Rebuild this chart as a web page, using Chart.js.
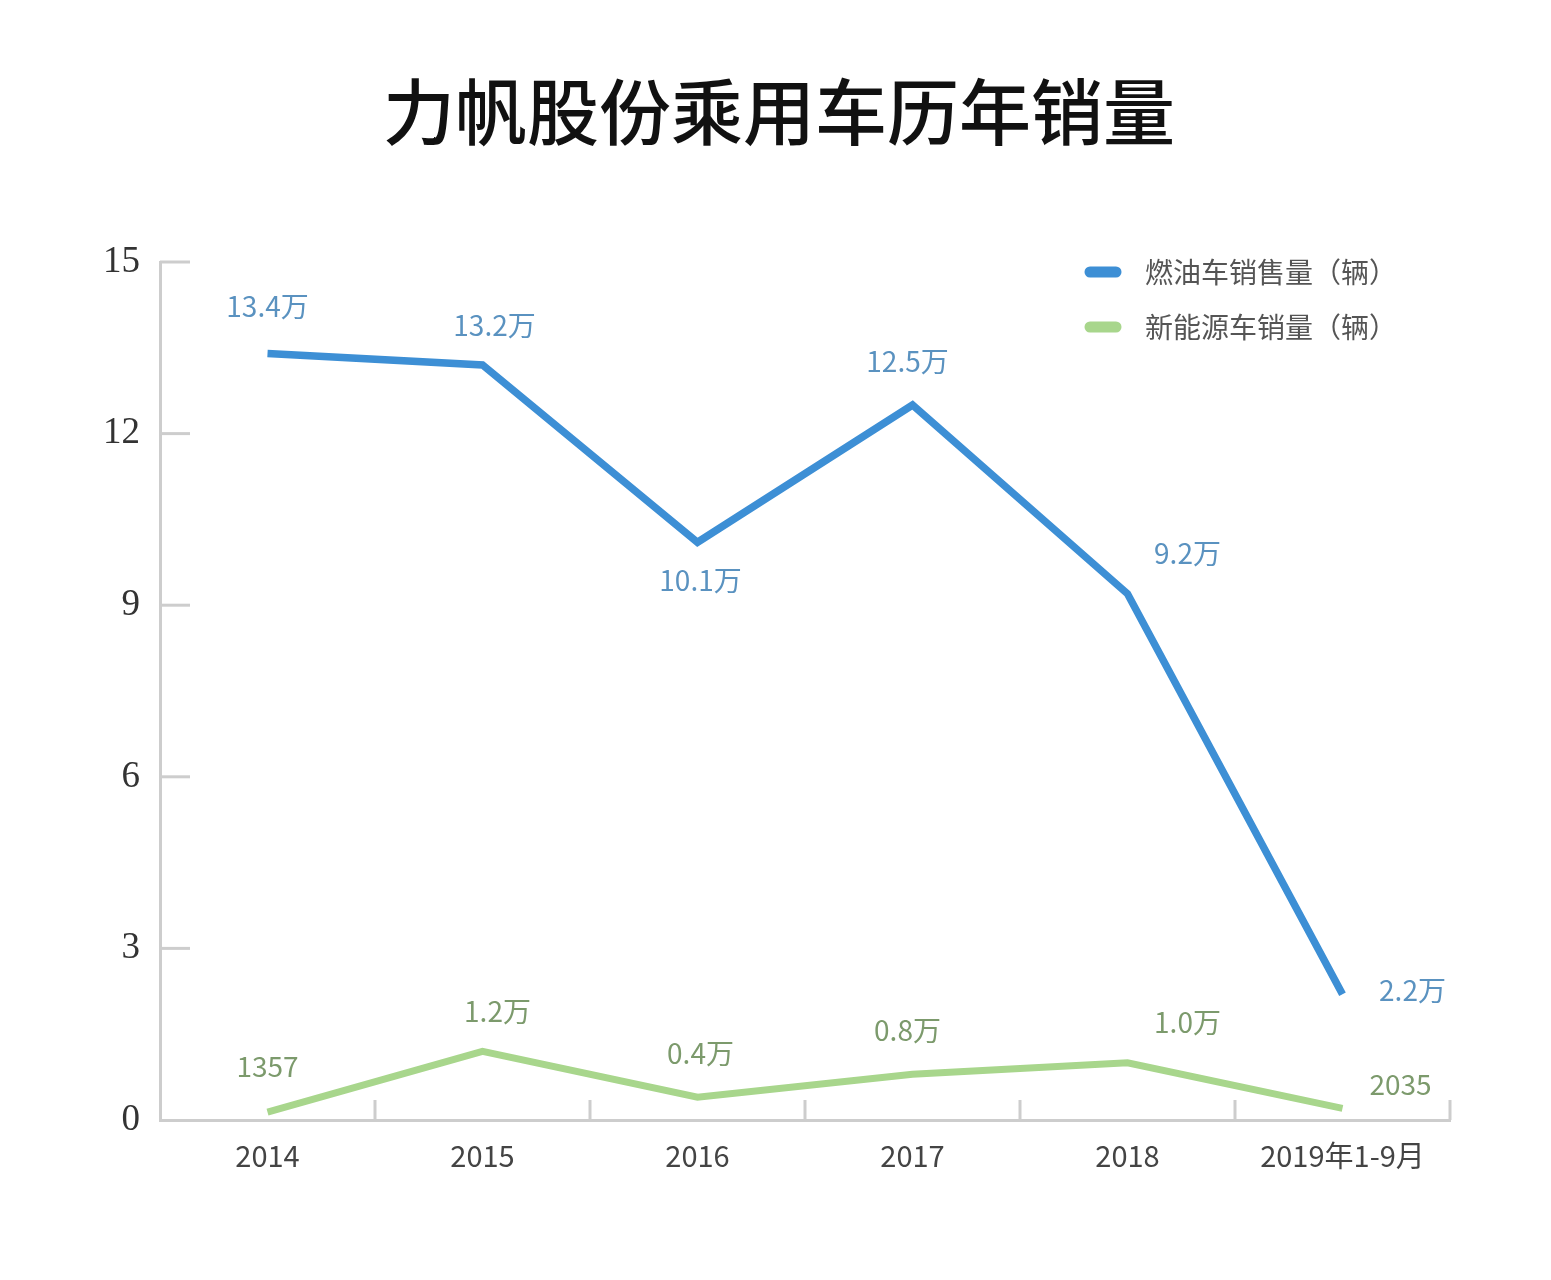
<!DOCTYPE html>
<html>
<head>
<meta charset="utf-8">
<script src="https://cdn.jsdelivr.net/npm/chart.js@4/dist/chart.umd.min.js"></script>
<style>
    html, body { margin: 0; padding: 0; background: #fff; }
    #wrap { width: 1551px; height: 1280px; }
</style>
</head>
<body>
<div id="wrap"><canvas id="chart"></canvas></div>
<script>
const years = ['2014', '2015', '2016', '2017', '2018', '2019年1-9月'];

// 单位：万辆
const fuelSales = [13.4, 13.2, 10.1, 12.5, 9.2, 2.2];
const nevSales = [0.1357, 1.2, 0.4, 0.8, 1.0, 0.2035];

const fuelLabels = ['13.4万', '13.2万', '10.1万', '12.5万', '9.2万', '2.2万'];
const nevLabels = ['1357', '1.2万', '0.4万', '0.8万', '1.0万', '2035'];

const yTicks = [0, 3, 6, 9, 12, 15];

const chartTitle = '力帆股份乘用车历年销量';

const COLORS = {
    blue: '#3d8fd5',
    green: '#a8d68c',
    blueText: '#5a92c0',
    greenText: '#7c9a6c',
    axis: '#cdcdcd',
};

const CJK = '"Noto Sans CJK SC", "Noto Sans", sans-serif';

// 标题（原图略偏右）
const titleText = {
    id: 'titleText',
    afterDraw(chart) {
        const { ctx } = chart;
        ctx.save();
        ctx.font = '500 72px ' + CJK;
        ctx.fillStyle = '#111';
        ctx.textAlign = 'center';
        ctx.textBaseline = 'middle';
        ctx.fillText(chartTitle, 779, 112);
        ctx.restore();
    }
};

// 轴内侧的小刻度
const innerTicks = {
    id: 'innerTicks',
    afterDraw(chart) {
        const { ctx, scales: { x, y } } = chart;
        ctx.save();
        ctx.strokeStyle = COLORS.axis;
        ctx.lineWidth = 3;
        yTicks.forEach(v => {
            if (v === 0) return;
            const py = y.getPixelForValue(v);
            ctx.beginPath();
            ctx.moveTo(x.left, py);
            ctx.lineTo(x.left + 30, py);
            ctx.stroke();
        });
        years.forEach((_, i) => {
            const px = x.getPixelForValue(i + 0.5);
            ctx.beginPath();
            ctx.moveTo(px, y.bottom);
            ctx.lineTo(px, y.bottom - 20);
            ctx.stroke();
        });
        ctx.restore();
    }
};

// 数据标签
const pointLabels = {
    id: 'pointLabels',
    afterDatasetsDraw(chart, args, opts) {
        const { ctx } = chart;
        ctx.save();
        ctx.font = '28px ' + CJK;
        ctx.textAlign = 'center';
        ctx.textBaseline = 'middle';
        chart.data.datasets.forEach((ds, di) => {
            const meta = chart.getDatasetMeta(di);
            ctx.fillStyle = ds.labelColor;
            meta.data.forEach((pt, i) => {
                const off = opts.offsets[di][i];
                ctx.fillText(ds.pointText[i], pt.x + off[0], pt.y + off[1]);
            });
        });
        ctx.restore();
    }
};

// 右上角图例
const cornerLegend = {
    id: 'cornerLegend',
    afterDraw(chart) {
        const { ctx } = chart;
        ctx.save();
        ctx.font = '28px ' + CJK;
        ctx.textBaseline = 'middle';
        chart.data.datasets.forEach((ds, i) => {
            const yy = 272 + i * 55;
            ctx.strokeStyle = ds.borderColor;
            ctx.lineWidth = 11;
            ctx.lineCap = 'round';
            ctx.beginPath();
            ctx.moveTo(1090, yy);
            ctx.lineTo(1116, yy);
            ctx.stroke();
            ctx.fillStyle = '#555';
            ctx.fillText(ds.label, 1145, yy);
        });
        ctx.restore();
    }
};

const ctx = document.getElementById('chart').getContext('2d');
new Chart(ctx, {
    type: 'line',
    data: {
        labels: years,
        datasets: [
            {
                label: '燃油车销售量（辆）',
                data: fuelSales,
                pointText: fuelLabels,
                labelColor: COLORS.blueText,
                borderColor: COLORS.blue,
                borderWidth: 7.5,
                pointRadius: 0,
                tension: 0,
            },
            {
                label: '新能源车销量（辆）',
                data: nevSales,
                pointText: nevLabels,
                labelColor: COLORS.greenText,
                borderColor: COLORS.green,
                borderWidth: 7,
                pointRadius: 0,
                tension: 0,
            }
        ]
    },
    options: {
        responsive: true,
        maintainAspectRatio: false,
        animation: false,
        layout: { padding: { left: 0, right: 101, top: 262, bottom: 0 } },
        plugins: {
            legend: { display: false },
            tooltip: { enabled: false },
            title: { display: false },
            pointLabels: {
                offsets: [
                    [[0, -47], [12, -40], [3, 38], [-5, -44], [60, -40], [70, -4]],
                    [[0, -46], [15, -40], [3, -44], [-5, -44], [60, -40], [58, -24]]
                ]
            }
        },
        scales: {
            x: {
                offset: true,
                border: { color: COLORS.axis, width: 3 },
                grid: { display: false, drawTicks: false },
                ticks: {
                    color: '#444',
                    padding: 19,
                    font: { family: CJK, size: 29 }
                },
                afterFit(scale) { scale.height = 160; }
            },
            y: {
                min: 0,
                max: 15,
                border: { color: COLORS.axis, width: 3 },
                grid: { display: false, drawTicks: false },
                afterBuildTicks(scale) {
                    scale.ticks = yTicks.map(v => ({ value: v }));
                },
                ticks: {
                    color: '#333',
                    padding: 20,
                    font: { family: '"Liberation Serif", "DejaVu Serif", serif', size: 37 }
                },
                afterFit(scale) { scale.width = 160; }
            }
        }
    },
    plugins: [titleText, innerTicks, pointLabels, cornerLegend]
});
</script>
</body>
</html>
